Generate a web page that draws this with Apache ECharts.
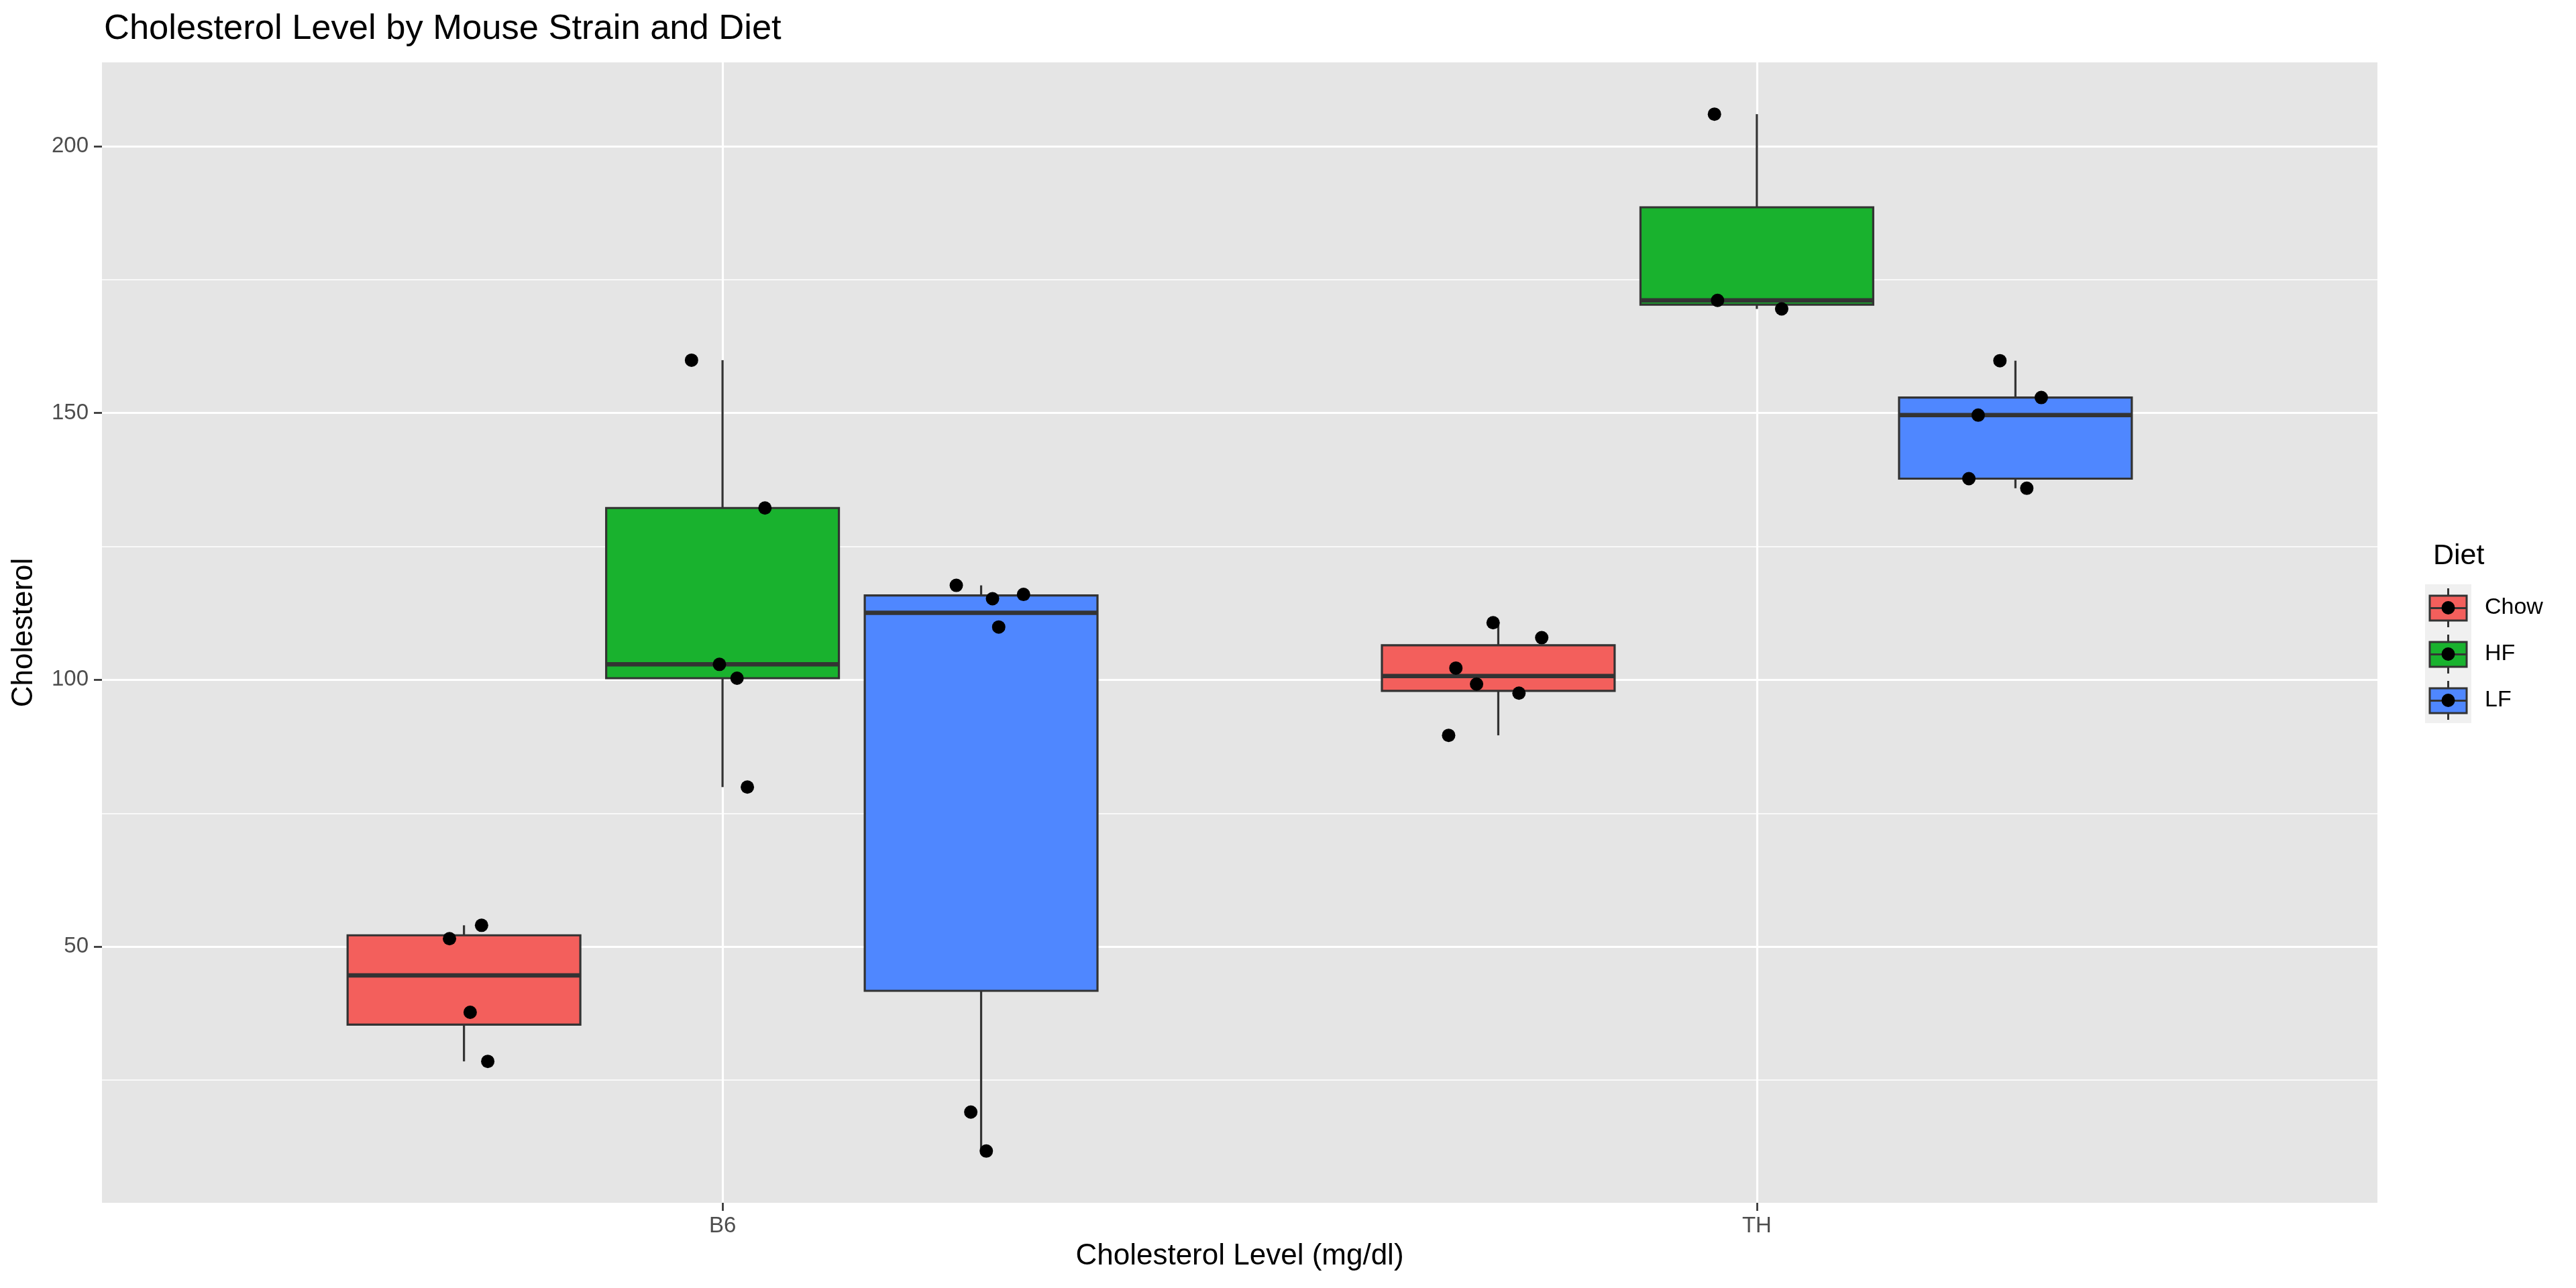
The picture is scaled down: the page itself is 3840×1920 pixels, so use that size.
<!DOCTYPE html>
<html>
<head>
<meta charset="utf-8">
<script src="https://cdn.jsdelivr.net/npm/echarts@6/dist/echarts.min.js"></script>
<style>
html,body{margin:0;padding:0;background:#fff;}
#chart{width:3840px;height:1920px;}
</style>
</head>
<body>
<div id="chart"></div>
<script>
// ---- data ----
const strains = ['B6', 'TH'];
const diets = ['Chow', 'HF', 'LF'];
const dietColors = ['#F35F5C', '#19B22E', '#4F87FF'];
const yTickLabels = [50, 100, 150, 200];
const yMinorLines = [25, 75, 125, 175];

// cholesterol values (mg/dl) per strain x diet
const b6Chow = [51.5, 54.0, 37.7, 28.5];
const b6HF   = [159.9, 132.2, 102.9, 100.3, 79.9];
const b6LF   = [117.7, 115.2, 116.0, 109.9, 19.0, 11.7];
const thChow = [110.7, 107.9, 102.2, 99.2, 97.5, 89.6];
const thHF   = [206.0, 171.1, 169.5];
const thLF   = [159.8, 152.9, 149.6, 137.7, 135.9];

// horizontal jitter of each point (in x-axis units)
const b6ChowJit = [-0.014, 0.017, 0.006, 0.023];
const b6HFJit   = [-0.030, 0.041, -0.003, 0.014, 0.024];
const b6LFJit   = [-0.024, 0.011, 0.041, 0.017, -0.010, 0.005];
const thChowJit = [-0.005, 0.042, -0.041, -0.021, 0.020, -0.048];
const thHFJit   = [-0.041, -0.038, 0.024];
const thLFJit   = [-0.015, 0.025, -0.036, -0.045, 0.011];

const values = {
  Chow: [b6Chow, thChow],
  HF:   [b6HF, thHF],
  LF:   [b6LF, thLF]
};
const jitters = {
  Chow: [b6ChowJit, thChowJit],
  HF:   [b6HFJit, thHFJit],
  LF:   [b6LFJit, thLFJit]
};

// ---- layout constants ----
const DODGE = [-0.25, 0, 0.25];
const BOX_W = 0.225;

function quantile(asc, p) {
  const h = (asc.length - 1) * p;
  const lo = Math.floor(h);
  const e = h - lo;
  return lo + 1 < asc.length ? asc[lo] + e * (asc[lo + 1] - asc[lo]) : asc[lo];
}
function boxStats(arr) {
  const asc = arr.slice().sort((a, b) => a - b);
  const q1 = quantile(asc, 0.25), med = quantile(asc, 0.5), q3 = quantile(asc, 0.75);
  const iqr = q3 - q1;
  const inside = asc.filter(v => v >= q1 - 1.5 * iqr && v <= q3 + 1.5 * iqr);
  return [inside[0], q1, med, q3, inside[inside.length - 1]];
}

const series = [];
diets.forEach((d, di) => {
  series.push({
    name: d,
    type: 'custom',
    z: 2,
    itemStyle: { color: dietColors[di] },
    encode: { x: 0, y: [1, 2, 3, 4, 5] },
    data: strains.map((s, si) => [si + 1 + DODGE[di]].concat(boxStats(values[d][si]))),
    renderItem: function (params, api) {
      const x = api.value(0);
      const lo = api.value(1), q1 = api.value(2), med = api.value(3), q3 = api.value(4), hi = api.value(5);
      const tl = api.coord([x - BOX_W / 2, q3]);
      const br = api.coord([x + BOX_W / 2, q1]);
      const cHi = api.coord([x, hi]);
      const cQ3 = api.coord([x, q3]);
      const cQ1 = api.coord([x, q1]);
      const cLo = api.coord([x, lo]);
      const mL = api.coord([x - BOX_W / 2, med]);
      const mR = api.coord([x + BOX_W / 2, med]);
      const stroke = '#333333';
      return {
        type: 'group',
        children: [
          { type: 'line', shape: { x1: cHi[0], y1: cHi[1], x2: cQ3[0], y2: cQ3[1] }, style: { stroke: stroke, lineWidth: 3.2 } },
          { type: 'line', shape: { x1: cQ1[0], y1: cQ1[1], x2: cLo[0], y2: cLo[1] }, style: { stroke: stroke, lineWidth: 3.2 } },
          { type: 'rect', shape: { x: tl[0], y: tl[1], width: br[0] - tl[0], height: br[1] - tl[1] },
            style: { fill: api.visual('color'), stroke: stroke, lineWidth: 3.2 } },
          { type: 'line', shape: { x1: mL[0], y1: mL[1], x2: mR[0], y2: mR[1] }, style: { stroke: stroke, lineWidth: 6.5 } }
        ]
      };
    }
  });
});
diets.forEach((d, di) => {
  const pts = [];
  strains.forEach((s, si) => {
    values[d][si].forEach((v, k) => {
      pts.push([si + 1 + DODGE[di] + jitters[d][si][k], v]);
    });
  });
  series.push({
    name: d,
    type: 'scatter',
    z: 3,
    symbolSize: 20,
    itemStyle: { color: '#000000', opacity: 1 },
    data: pts
  });
});

const FONT = 'Liberation Sans, Arial, sans-serif';
const chart = echarts.init(document.getElementById('chart'));
chart.setOption({
  animation: false,
  backgroundColor: '#ffffff',
  textStyle: { fontFamily: FONT },
  title: [
    { text: 'Cholesterol Level by Mouse Strain and Diet', left: 150, top: 12,
      textStyle: { fontSize: 52.5, fontWeight: 'normal', color: '#000', fontFamily: FONT } },
    { text: 'Diet', left: 3622, top: 803,
      textStyle: { fontSize: 43, fontWeight: 'normal', color: '#000', fontFamily: FONT } }
  ],
  grid: { left: 152, right: 296, top: 93, bottom: 127, show: true, backgroundColor: '#E5E5E5', borderWidth: 0 },
  legend: [
    {
      data: diets, left: 3615, top: 871, orient: 'vertical', padding: 0,
      itemWidth: 69, itemHeight: 69, itemGap: 0, icon: 'rect',
      itemStyle: { color: '#F0F0F0', borderWidth: 0 },
      textStyle: { fontSize: 10, lineHeight: 10, color: 'rgba(0,0,0,0)' }
    },
    {
      data: diets, left: 3620.5, top: 875.5, orient: 'vertical', padding: 0,
      itemWidth: 55, itemHeight: 58, itemGap: 8,
      icon: 'path://M27.5,0L27.5,11M0,11L55,11L55,48L0,48ZM0,29.5L55,29.5M27.5,48L27.5,58',
      itemStyle: { borderColor: '#333333', borderWidth: 3 },
      textStyle: { fontSize: 34, color: '#000', fontFamily: FONT, padding: [0, 0, 0, 22] }
    },
    {
      data: diets, left: 3639.5, top: 896, orient: 'vertical', padding: 0,
      itemWidth: 20, itemHeight: 20, itemGap: 49, icon: 'circle',
      itemStyle: { color: '#000', borderWidth: 0 },
      textStyle: { fontSize: 10, lineHeight: 10, color: 'rgba(0,0,0,0)' }
    }
  ],
  xAxis: [{
    type: 'value', min: 0.4, max: 2.6,
    name: 'Cholesterol Level (mg/dl)', nameLocation: 'middle', nameGap: 58,
    nameTextStyle: { fontSize: 44, color: '#000', fontFamily: FONT },
    axisLine: { show: false },
    axisTick: { show: true, length: 12, lineStyle: { color: '#333', width: 2.7 }, customValues: [1, 2] },
    axisLabel: { customValues: [1, 2], fontSize: 33, color: '#4D4D4D', margin: 18,
      formatter: v => strains[Math.round(v) - 1] || '' },
    splitLine: { show: true, lineStyle: { color: '#ffffff', width: 3.2 } }
  }],
  yAxis: [{
    type: 'value', min: 2.0, max: 215.7,
    name: 'Cholesterol', nameLocation: 'middle', nameGap: 94, nameRotate: 90,
    nameTextStyle: { fontSize: 44, color: '#000', fontFamily: FONT },
    axisLine: { show: false },
    axisTick: { show: true, length: 12, lineStyle: { color: '#333', width: 2.7 }, customValues: yTickLabels },
    axisLabel: { customValues: yTickLabels, fontSize: 33, color: '#4D4D4D', margin: 20 },
    splitLine: { show: true, lineStyle: { color: '#ffffff', width: 3.2 } }
  }, {
    type: 'value', min: 2.0, max: 215.7, position: 'left',
    axisLine: { show: false },
    axisTick: { show: false, customValues: yMinorLines },
    axisLabel: { show: false, customValues: yMinorLines },
    splitLine: { show: true, lineStyle: { color: '#ffffff', width: 1.6 } }
  }],
  series: series
});
</script>
</body>
</html>
